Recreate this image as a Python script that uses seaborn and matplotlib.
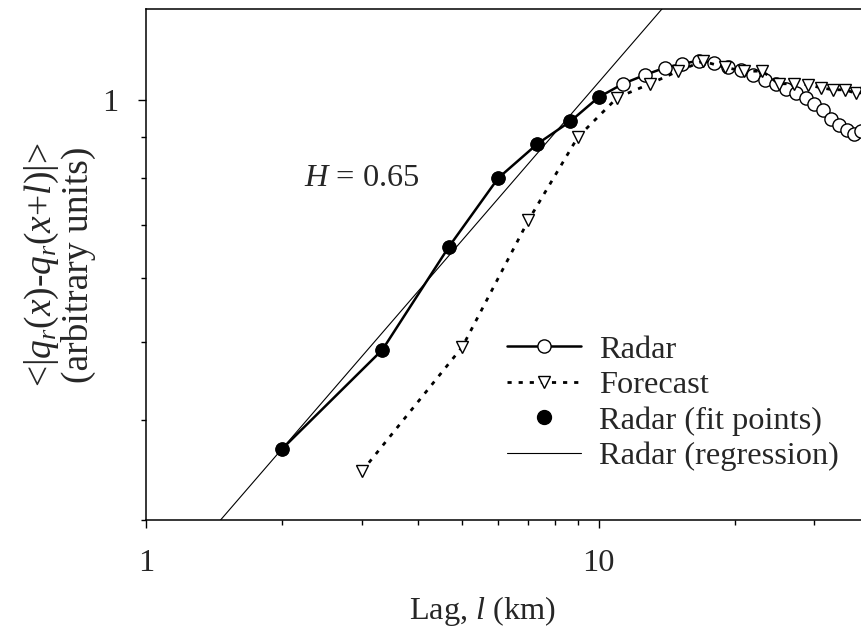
import numpy as np
import pandas as pd
import matplotlib
matplotlib.use("Agg")
import matplotlib.pyplot as plt
from matplotlib.lines import Line2D
from matplotlib.ticker import NullFormatter
import seaborn as sns

# ---------------- data ----------------
radar_lag = [2.0, 3.33, 4.67, 6.0, 7.33, 8.67, 10.0, 11.33, 12.67, 14.0,
             15.33, 16.67, 18.0, 19.33, 20.67, 22.0, 23.33, 24.67, 26.0,
             27.33, 28.67, 30.0, 31.33, 32.67, 34.0, 35.33, 36.67, 38.0, 39.33]
radar_val = [0.368, 0.489, 0.657, 0.800, 0.883, 0.942, 1.009, 1.049, 1.076, 1.098,
             1.111, 1.121, 1.114, 1.102, 1.092, 1.076, 1.061, 1.049, 1.034,
             1.021, 1.008, 0.991, 0.974, 0.947, 0.931, 0.918, 0.909, 0.916, 0.920]

forecast_lag = [3, 5, 7, 9, 11, 13, 15, 17, 19, 21, 23, 25, 27, 29, 31, 33, 35, 37, 39]
forecast_val = [0.345, 0.493, 0.709, 0.900, 1.008, 1.049, 1.088, 1.119, 1.100, 1.087,
                1.088, 1.049, 1.049, 1.046, 1.037, 1.031, 1.031, 1.021, 1.023]

n_fit = 7  # first radar points used in the regression
fit_lag = radar_lag[:n_fit]
fit_val = radar_val[:n_fit]

series_labels = ["Radar", "Forecast", "Radar (fit points)", "Radar (regression)"]
h_label = "$H$ = 0.65"
x_ticks = [1, 10]
x_ticklabels = ["1", "10"]
x_minor = [2, 3, 4, 5, 6, 7, 8, 9, 20, 30]
y_ticks = [1]
y_ticklabels = ["1"]
y_minor = [0.3, 0.4, 0.5, 0.6, 0.7, 0.8, 0.9]
xlim = (1, 39.0)
ylim = (0.3, 1.3)

# regression in log-log space
slope, intercept = np.polyfit(np.log10(fit_lag), np.log10(fit_val), 1)
reg_lag = np.array(xlim)
reg_val = 10 ** (intercept + slope * np.log10(reg_lag))

radar_df = pd.DataFrame({"lag": radar_lag, "val": radar_val})
fc_df = pd.DataFrame({"lag": forecast_lag, "val": forecast_val})
fit_df = pd.DataFrame({"lag": fit_lag, "val": fit_val})
reg_df = pd.DataFrame({"lag": reg_lag, "val": reg_val})

# ---------------- style ----------------
sns.set_theme(style="ticks")
FONT = "Liberation Serif"
plt.rcParams["font.family"] = [FONT, "DejaVu Serif"]
plt.rcParams["mathtext.fontset"] = "custom"
plt.rcParams["mathtext.rm"] = FONT
plt.rcParams["mathtext.it"] = FONT + ":italic"
FS = 23.3
FS_Y = 27

fig = plt.figure(figsize=(8.62, 6.32), dpi=100)
W, H = 862, 632
ax = fig.add_axes([146 / W, (H - 520) / H, 720 / W, (520 - 9) / H])
ax.set_xscale("log")
ax.set_yscale("log")

lw_data = 1.8
sns.lineplot(data=reg_df, x="lag", y="val", ax=ax, color="black", lw=0.8,
             zorder=2, sort=False)
sns.lineplot(data=radar_df, x="lag", y="val", ax=ax, color="black", lw=lw_data,
             marker="o", markersize=9.5, markerfacecolor="white",
             markeredgecolor="black", markeredgewidth=1.0, zorder=3, sort=False)
sns.lineplot(data=fc_df, x="lag", y="val", ax=ax, color="black", lw=2.0,
             linestyle=(0, (1.5, 2.5)), marker="v", markersize=9,
             markerfacecolor="white", markeredgecolor="black",
             markeredgewidth=1.0, zorder=4, sort=False)
sns.scatterplot(data=fit_df, x="lag", y="val", ax=ax, color="black", s=90,
                edgecolor="black", linewidth=0.5, zorder=5)

ax.set_xlim(*xlim)
ax.set_ylim(*ylim)

ax.set_xticks(x_ticks, labels=x_ticklabels)
ax.set_xticks(x_minor, minor=True)
ax.set_yticks(y_ticks, labels=y_ticklabels)
ax.set_yticks(y_minor, minor=True)
ax.xaxis.set_minor_formatter(NullFormatter())
ax.yaxis.set_minor_formatter(NullFormatter())
ax.tick_params(which="both", direction="out", color="black", width=1.0,
               labelsize=FS, top=False, right=False)
ax.tick_params(which="major", length=6)
ax.tick_params(which="minor", length=3.5)
ax.tick_params(axis="x", which="major", pad=15)
ax.tick_params(axis="y", which="major", pad=14)

for s in ["left", "bottom", "top"]:
    ax.spines[s].set_visible(True)
    ax.spines[s].set_color("black")
    ax.spines[s].set_linewidth(1.1)
ax.spines["right"].set_visible(False)

ax.set_xlabel("Lag, $l$ (km)", fontsize=FS)
ax.xaxis.set_label_coords((483 - 146) / 720, -(594 - 520) / 511)
ax.set_ylabel("<|$q_r$($x$)-$q_r$($x$+$l$)|>\n(arbitrary units)", fontsize=FS_Y,
              linespacing=0.98)
ax.yaxis.set_label_coords(-(146 - 96) / 720, 0.5)

ax.text(2.23, 0.80, h_label, fontsize=FS, ha="left", va="center")

handles = [
    Line2D([], [], color="black", lw=lw_data, marker="o", markersize=9.5,
           markerfacecolor="white", markeredgecolor="black", markeredgewidth=1.0),
    Line2D([], [], color="black", lw=2.0, linestyle=(0, (1.5, 2.5)), marker="v",
           markersize=8, markerfacecolor="white", markeredgecolor="black",
           markeredgewidth=1.0),
    Line2D([], [], color="black", lw=0, linestyle="none", marker="o",
           markersize=10),
    Line2D([], [], color="black", lw=0.8),
]
leg = ax.legend(handles, series_labels, loc="upper left",
                bbox_to_anchor=(507 / W, 1 - 335 / H),
                bbox_transform=fig.transFigure, frameon=False, fontsize=FS,
                handlelength=2.28, handletextpad=0.55, labelspacing=0.18,
                borderpad=0, borderaxespad=0, numpoints=1)

fig.savefig("out.png", dpi=100)
